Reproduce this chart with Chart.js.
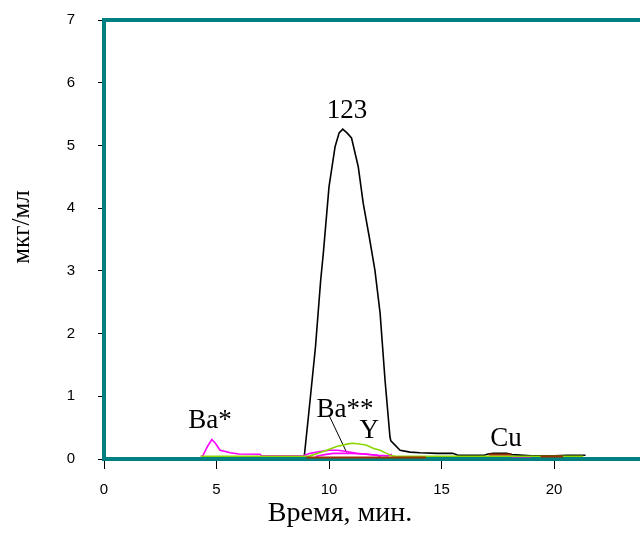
<!DOCTYPE html>
<html>
<head>
<meta charset="utf-8">
<title>Хроматограмма</title>
<style>
  html, body { margin: 0; padding: 0; overflow: hidden; background: #fff; }
  #wrap { width: 650px; height: 540px; }
</style>
<script src="https://cdn.jsdelivr.net/npm/chart.js@4.4.1/dist/chart.umd.min.js"></script>
</head>
<body>
<div id="wrap"><canvas id="c" width="650" height="540"></canvas></div>
<script>
// Elution profiles: time (min) vs concentration (мкг/мл)
const xTicks = [0, 5, 10, 15, 20];
const yTicks = [0, 1, 2, 3, 4, 5, 6, 7];

// "123" peak (black)
const s123X = [8.9, 9.1, 9.4, 9.63, 9.75, 10.0, 10.27, 10.45, 10.61, 10.8, 11.0, 11.3, 11.52, 11.79, 12.04, 12.27, 12.49, 12.71, 12.75, 13.16, 13.6, 14.04, 14.8, 15.5, 15.73, 16.9, 17.07, 17.3, 17.9, 18.13, 19.0, 20.0, 20.6, 21.4];
const s123Y = [0.04, 0.73, 1.79, 2.85, 3.29, 4.34, 4.98, 5.2, 5.26, 5.2, 5.12, 4.66, 4.08, 3.54, 3.01, 2.33, 1.26, 0.35, 0.29, 0.14, 0.11, 0.10, 0.09, 0.09, 0.06, 0.06, 0.08, 0.09, 0.09, 0.07, 0.05, 0.05, 0.06, 0.06];

// Ba* (magenta)
const baX = [4.3, 4.39, 4.6, 4.79, 4.95, 5.16, 5.4, 5.6, 6.0, 6.93, 7.0, 8.85, 9.16, 9.6, 10.0, 10.4, 10.78, 11.23, 12.1, 12.3];
const baY = [0.04, 0.05, 0.2, 0.31, 0.25, 0.14, 0.12, 0.10, 0.08, 0.075, 0.05, 0.05, 0.09, 0.12, 0.14, 0.14, 0.12, 0.09, 0.06, 0.04];

// Ba** (magenta, lower trace)
const ba2X = [9.4, 9.8, 10.2, 11.0, 11.6, 12.2, 12.6, 12.8, 18.0, 18.1, 19.0, 19.1];
const ba2Y = [0.04, 0.07, 0.09, 0.09, 0.08, 0.06, 0.05, 0.075, null, 0.035, 0.035, null];

// Y (yellow-green)
const yX = [4.3, 9.1, 9.16, 9.75, 10.34, 10.9, 11.08, 11.5, 11.67, 11.96, 12.27, 12.56, 12.8, 13.0, 21.3];
const yY = [0.045, 0.045, 0.05, 0.12, 0.2, 0.245, 0.25, 0.23, 0.22, 0.17, 0.14, 0.09, 0.05, 0.045, 0.045];

// Cu (brown)
const cuX = [9.0, 14.3, 14.4, 17.1, 18.1, 18.2, 19.4, 20.4];
const cuY = [0.025, 0.025, null, 0.07, 0.07, null, 0.04, 0.04];

// Peak captions (baseline position in data units)
const captionText = ['123', 'Ba*', 'Ba**', 'Y', 'Cu'];
const captionX = [10.8, 4.71, 10.71, 11.79, 17.87];
const captionY = [5.44, 0.49, 0.67, 0.335, 0.2];

// Leader from the Ba** caption to its trace
const leaderX = [10.01, 10.79];
const leaderY = [0.69, 0.10];

const pts = (xs, ys) => xs.map((x, i) => ({ x: x, y: ys[i] }));

const TEAL = '#008080';
const SERIF = '"Liberation Serif", "Times New Roman", serif';

const decor = {
  id: 'decor',
  beforeDatasetsDraw(chart) {
    const { ctx, chartArea } = chart;
    ctx.save();
    ctx.strokeStyle = TEAL;
    ctx.lineWidth = 4;
    ctx.beginPath();
    ctx.moveTo(chartArea.left - 2, chartArea.top);
    ctx.lineTo(chartArea.right + 2, chartArea.top);
    ctx.stroke();
    ctx.restore();
  },
  afterDatasetsDraw(chart) {
    const { ctx, scales } = chart;
    ctx.save();
    ctx.fillStyle = '#000';
    ctx.font = '27px ' + SERIF;
    ctx.textAlign = 'center';
    ctx.textBaseline = 'alphabetic';
    captionText.forEach((t, i) => {
      ctx.fillText(t, scales.x.getPixelForValue(captionX[i]), scales.y.getPixelForValue(captionY[i]));
    });
    // axis titles
    ctx.font = '28px ' + SERIF;
    ctx.textBaseline = 'middle';
    ctx.fillText('Время, мин.', 340, 514);
    ctx.font = '25px ' + SERIF;
    ctx.translate(22, 227);
    ctx.rotate(-Math.PI / 2);
    ctx.fillText('мкг/мл', 0, 0);
    ctx.restore();
  }
};

const line = (label, data, color, width) => ({
  label: label,
  data: data,
  borderColor: color,
  borderWidth: width,
  pointRadius: 0,
  tension: 0,
  spanGaps: false,
  fill: false
});

new Chart(document.getElementById('c'), {
  type: 'line',
  data: {
    datasets: [
      line('Cu', pts(cuX, cuY), '#993300', 2),
      line('Y', pts(yX, yY), '#8CD600', 1.6),
      line('Ba**', pts(ba2X, ba2Y), '#FF00FF', 1.6),
      line('Ba*', pts(baX, baY), '#FF00FF', 1.6),
      line('123', pts(s123X, s123Y), '#000000', 1.6),
      line('leader', pts(leaderX, leaderY), '#000000', 1)
    ]
  },
  options: {
    responsive: false,
    animation: false,
    devicePixelRatio: 1,
    layout: { padding: { left: 0, top: 20, right: 6, bottom: 0 } },
    plugins: { legend: { display: false }, tooltip: { enabled: false } },
    scales: {
      x: {
        type: 'linear',
        min: 0,
        max: 24,
        afterFit(scale) { scale.height = 81; scale.paddingLeft = 0; scale.paddingRight = 0; },
        afterBuildTicks(scale) { scale.ticks = xTicks.map(v => ({ value: v })); },
        ticks: {
          padding: 12,
          color: '#000',
          font: { family: '"Liberation Sans", Arial, sans-serif', size: 15 },
          maxRotation: 0
        },
        grid: { drawOnChartArea: false, drawTicks: true, tickLength: 10, color: '#000', lineWidth: 1 },
        border: { display: true, color: TEAL, width: 4 }
      },
      y: {
        type: 'linear',
        min: 0,
        max: 7,
        afterFit(scale) { scale.width = 104; scale.paddingTop = 0; scale.paddingBottom = 0; },
        afterBuildTicks(scale) { scale.ticks = yTicks.map(v => ({ value: v })); },
        ticks: {
          padding: 23,
          color: '#000',
          font: { family: '"Liberation Sans", Arial, sans-serif', size: 15 }
        },
        grid: { drawOnChartArea: false, drawTicks: true, tickLength: 6, color: '#000', lineWidth: 1 },
        border: { display: true, color: TEAL, width: 4 }
      }
    }
  },
  plugins: [decor]
});
</script>
</body>
</html>
